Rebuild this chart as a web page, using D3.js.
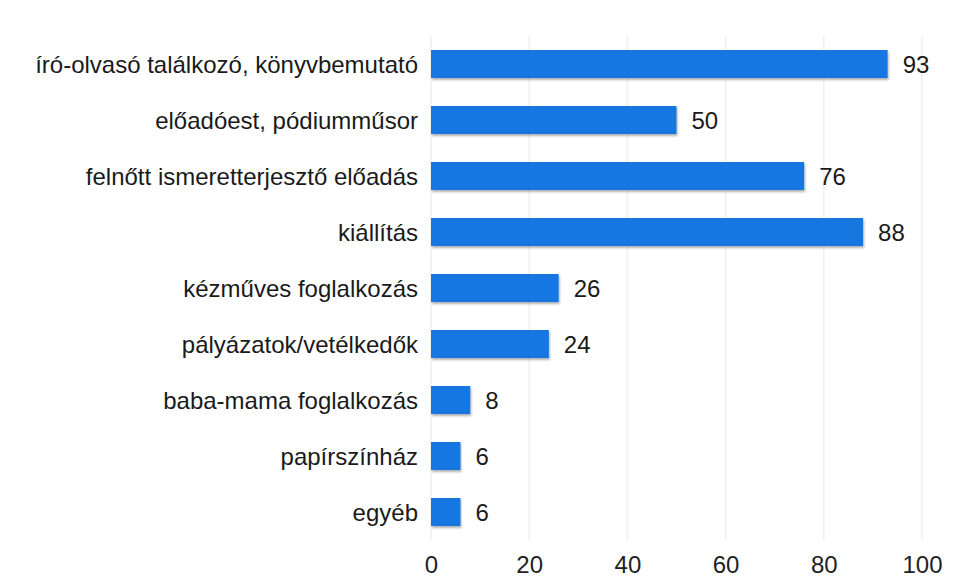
<!DOCTYPE html>
<html>
<head>
<meta charset="utf-8">
<script src="https://cdn.jsdelivr.net/npm/d3@7"></script>
<style>
  body { margin: 0; background: #fff; }
  text { font-family: "Liberation Sans", Arial, sans-serif; }
</style>
</head>
<body>
<svg></svg>
<script>
const categories = [
    "író-olvasó találkozó, könyvbemutató",
    "előadóest, pódiumműsor",
    "felnőtt ismeretterjesztő előadás",
    "kiállítás",
    "kézműves foglalkozás",
    "pályázatok/vetélkedők",
    "baba-mama foglalkozás",
    "papírszínház",
    "egyéb"
];
const values = [93, 50, 76, 88, 26, 24, 8, 6, 6];
const xTicks = [0, 20, 40, 60, 80, 100];

const margin = { top: 36, right: 49, bottom: 38, left: 431 };
const [svgWidth, svgHeight] = [971, 578];
const [chartWidth, chartHeight] = [svgWidth - margin.left - margin.right, svgHeight - margin.top - margin.bottom];

const data = categories.map((c, i) => ({ name: c, value: values[i] }));

const xScale = d3.scaleLinear()
    .domain([0, 100])
    .range([0, chartWidth]);

const yScale = d3.scaleBand()
    .domain(categories)
    .range([0, chartHeight])
    .paddingInner(0.5)
    .paddingOuter(0.25);

const svg = d3.select("svg")
    .attr("width", svgWidth)
    .attr("height", svgHeight);

const defs = svg.append("defs");
const shadow = defs.append("filter").attr("id", "shadow")
    .attr("x", "-5%").attr("y", "-20%").attr("width", "110%").attr("height", "160%");
shadow.append("feDropShadow")
    .attr("dx", 1).attr("dy", 2).attr("stdDeviation", 1.2)
    .attr("flood-color", "#000").attr("flood-opacity", 0.3);

const g = svg.append("g")
    .attr("transform", `translate(${[margin.left, margin.top]})`);

// grid
g.append("g")
    .selectAll("line")
    .data(xTicks)
    .join("line")
    .attr("x1", d => xScale(d))
    .attr("x2", d => xScale(d))
    .attr("y1", 0)
    .attr("y2", chartHeight)
    .attr("stroke", "#efefef")
    .attr("stroke-width", 1.5);

// bars
g.append("g")
    .selectAll("rect")
    .data(data)
    .join("rect")
    .attr("x", 0)
    .attr("y", d => yScale(d.name))
    .attr("width", d => xScale(d.value))
    .attr("height", yScale.bandwidth())
    .attr("fill", "#1677e2")
    .attr("filter", "url(#shadow)");

// value labels
g.append("g")
    .selectAll("text")
    .data(data)
    .join("text")
    .attr("x", d => xScale(d.value) + 15)
    .attr("y", d => yScale(d.name) + yScale.bandwidth() / 2)
    .attr("dy", "0.36em")
    .attr("font-size", 24)
    .attr("fill", "#1a1a1a")
    .text(d => d.value);

// category labels
const yAxis = d3.axisLeft(yScale).tickSize(0).tickPadding(13);
g.append("g")
    .call(yAxis)
    .call(a => a.select(".domain").remove())
    .selectAll("text")
    .attr("font-size", 24)
    .attr("font-family", "Liberation Sans, Arial, sans-serif")
    .attr("dy", "0.36em")
    .attr("fill", "#1a1a1a");

// x axis
const xAxis = d3.axisBottom(xScale).tickValues(xTicks).tickSize(0).tickPadding(16);
g.append("g")
    .attr("transform", `translate(0,${chartHeight})`)
    .call(xAxis)
    .call(a => a.select(".domain").remove())
    .selectAll("text")
    .attr("font-size", 24)
    .attr("font-family", "Liberation Sans, Arial, sans-serif")
    .attr("fill", "#222");
</script>
</body>
</html>
